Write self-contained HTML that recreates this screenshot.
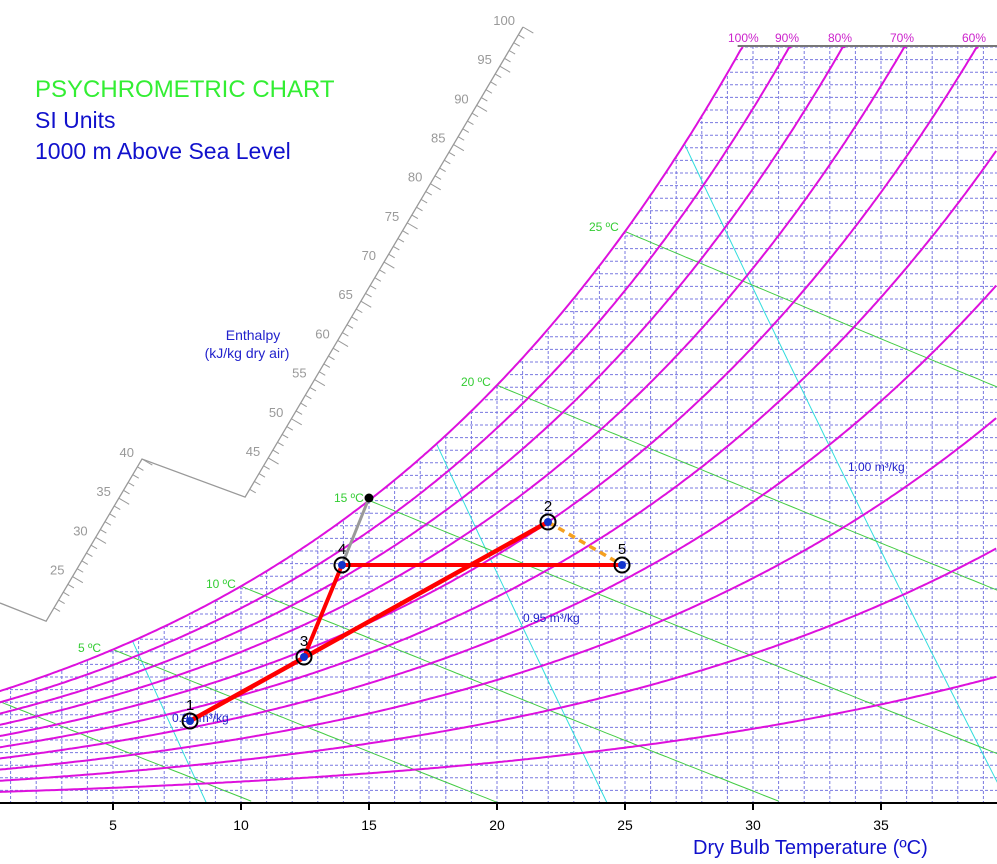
<!DOCTYPE html>
<html><head><meta charset="utf-8"><style>
body{margin:0;background:#fff;width:997px;height:864px;overflow:hidden}
svg{display:block;font-family:"Liberation Sans",sans-serif}
</style></head><body>
<svg id="s" width="997" height="864" xmlns="http://www.w3.org/2000/svg"></svg>
<script>
const S=document.getElementById('s');let h='';
const P=89.875;
const X=T=>113+(T-5)*25.6, Y=W=>803-W*1000*25.2;
const pws=T=>0.61094*Math.exp(17.625*T/(T+243.04));
const Wrh=(T,r)=>{const p=r*pws(T);return 0.622*p/(P-p);};
const Wmax=0.030, Tmin=-0.6, Tmax=39.6;
function pl(pts,st){return `<polyline fill="none" points="${pts.map(p=>p[0].toFixed(1)+','+p[1].toFixed(1)).join(' ')}" ${st}/>`;}
let sat=[];for(let T=Tmin;T<=Tmax;T+=0.1){let W=Wrh(T,1);if(W>Wmax){sat.push([X(T),Y(Wmax)]);break;}sat.push([X(T),Y(W)]);}
let clip=sat.concat([[997,46],[997,803],[0,803],[0,Y(Wrh(Tmin,1))]]);
h+=`<defs><clipPath id="c"><polygon points="${clip.map(p=>p.join(',')).join(' ')}"/></clipPath><clipPath id="b"><rect x="0" y="44" width="997" height="759"/></clipPath></defs>`;
let g='';
for(let T=0;T<=40;T++){g+=`<line x1="${X(T)}" y1="46" x2="${X(T)}" y2="803"/>`;}
for(let w=0.5;w<=30;w+=0.5){let y=Y(w/1000);g+=`<line x1="0" y1="${y}" x2="997" y2="${y}"/>`;}
h+=`<g clip-path="url(#c)" stroke="#7878e0" stroke-width="1" stroke-dasharray="3,2">${g}</g>`;
let rc='';
for(let r=1;r<=10;r++){let pts=[];for(let T=Tmin;T<=Tmax;T+=0.1){let W=Wrh(T,r/10);if(W>Wmax){pts.push([X(T),Y(Wmax)]);break;}pts.push([X(T),Y(W)]);}rc+=pl(pts,'stroke="#dd11dd" stroke-width="2"');}
let wb='';
for(let tw=0;tw<=25;tw+=5){let ws=Wrh(tw,1);let pts=[];for(let T=tw;T<=Tmax+1;T+=0.2){let W=((2501-2.326*tw)*ws-1.006*(T-tw))/(2501+1.86*T-4.186*tw);if(W<0)break;pts.push([X(T),Y(W)]);}wb+=pl(pts,'stroke="#44cc44" stroke-width="1"');}
let vl='';
for(let v=0.85;v<=1.01;v+=0.05){let pts=[];for(let W=0;W<=Wmax;W+=0.0005){let T=v*P/(0.287042*(1+1.6078*W))-273.15;pts.push([X(T),Y(W)]);}vl+=pl(pts,'stroke="#33dddd" stroke-width="1"');}
h+=`<g clip-path="url(#c)">${vl}${wb}</g><g clip-path="url(#b)">${rc}</g>`;
h+=`<line x1="${X(29.4)}" y1="46" x2="997" y2="46" stroke="#777" stroke-width="2"/>`;
h+=`<g fill="#cc22cc" font-size="12"><text x="728" y="42">100%</text><text x="775" y="42">90%</text><text x="828" y="42">80%</text><text x="890" y="42">70%</text><text x="962" y="42">60%</text></g>`;
h+=`<g fill="#33cc33" font-size="12"><text x="78" y="652">5 ºC</text><text x="206" y="588">10 ºC</text><text x="334" y="502">15 ºC</text><text x="461" y="386">20 ºC</text><text x="589" y="231">25 ºC</text></g>`;
h+=`<g fill="#2222cc" font-size="12"><text x="172" y="722">0.90 m³/kg</text><text x="523" y="622">0.95 m³/kg</text><text x="848" y="471">1.00 m³/kg</text></g>`;
const dx=0.509,dy=-0.861,sp=9.1;
const up=e=>[523-dx*(100-e)*sp,27-dy*(100-e)*sp], lo=e=>[142-dx*(40-e)*sp,459-dy*(40-e)*sp];
let e0=lo(19.3),e1=up(40);
h+=`<polyline fill="none" stroke="#999" stroke-width="1.3" points="0,603 ${e0.join(',')} 142,459 ${e1.join(',')} 523,27"/>`;
let tk='';
function tick(p,e){let L=e%5==0?12:7;tk+=`<line x1="${p[0]}" y1="${p[1]}" x2="${p[0]+0.861*L}" y2="${p[1]+0.509*L}"/>`;if(e%5==0)h+=`<text x="${p[0]-8}" y="${p[1]-2}" text-anchor="end" fill="#999" font-size="13">${e}</text>`;}
for(let e=21;e<=40;e++)tick(lo(e),e);
for(let e=41;e<=100;e++)tick(up(e),e);
h+=`<g stroke="#999" stroke-width="1">${tk}</g>`;
h+=`<text x="253" y="340" text-anchor="middle" fill="#2222cc" font-size="14">Enthalpy</text><text x="247" y="358" text-anchor="middle" fill="#2222cc" font-size="14">(kJ/kg dry air)</text>`;
h+=`<text x="35" y="97" fill="#33ee33" font-size="24">PSYCHROMETRIC CHART</text><text x="35" y="128" fill="#1111cc" font-size="23">SI Units</text><text x="35" y="159" fill="#1111cc" font-size="23">1000 m Above Sea Level</text>`;
h+=`<line x1="0" y1="803" x2="997" y2="803" stroke="#000" stroke-width="2"/>`;
for(let T=5;T<=35;T+=5){h+=`<line x1="${X(T)}" y1="803" x2="${X(T)}" y2="810" stroke="#000" stroke-width="2"/><text x="${X(T)}" y="830" text-anchor="middle" font-size="14">${T}</text>`;}
h+=`<text x="693" y="854" fill="#1111cc" font-size="20">Dry Bulb Temperature (ºC)</text>`;
h+=`<line x1="342" y1="565" x2="369" y2="498" stroke="#999" stroke-width="3"/><circle cx="369" cy="498" r="4.5" fill="#000"/>`;
h+=`<line x1="548" y1="522" x2="622" y2="565" stroke="#f5a020" stroke-width="3.5" stroke-dasharray="7,5"/>`;
h+=`<polyline fill="none" stroke="#f00" stroke-width="4.5" points="190,721 548,522"/><polyline fill="none" stroke="#f00" stroke-width="4" points="304,657 342,565 622,565"/>`;
[[190,721,'1'],[548,522,'2'],[304,657,'3'],[342,565,'4'],[622,565,'5']].forEach(p=>{h+=`<circle cx="${p[0]}" cy="${p[1]}" r="7.5" fill="none" stroke="#000" stroke-width="2"/><circle cx="${p[0]}" cy="${p[1]}" r="4" fill="#1133cc"/><text x="${p[0]}" y="${p[1]-11}" text-anchor="middle" font-size="15">${p[2]}</text>`;});
S.innerHTML=h;
</script>
</body></html>
